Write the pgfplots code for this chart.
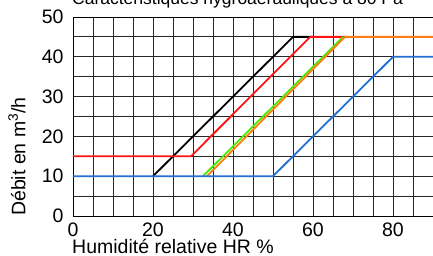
\documentclass[border=0pt]{standalone}
\usepackage{pgfplots}
\pgfplotsset{compat=1.18}
\usepackage{fontspec}
\setmainfont{Liberation Sans}
\definecolor{cred}{RGB}{255,20,20}
\definecolor{cgreen}{RGB}{70,235,0}
\definecolor{corange}{RGB}{255,125,20}
\definecolor{cblue}{RGB}{35,112,210}
\begin{document}
\begin{tikzpicture}
\begin{axis}[
  at={(0,0)}, anchor=south west,
  scale only axis, width=360pt, height=199pt,
  xmin=0, xmax=90, ymin=0, ymax=50,
  xtick={0,20,...,80}, ytick={0,10,...,50},
  minor xtick={0,5,...,90}, minor ytick={0,5,...,50},
  grid=both,
  major grid style={black!85, line width=0.8pt},
  minor grid style={black!85, line width=0.8pt},
  axis line style={black, line width=0.9pt},
  major tick length=0pt, minor tick length=0pt,
  /pgf/number format/assume math mode=true,
  tick label style={font=\fontsize{19.5}{22}\selectfont},
  xticklabel style={inner sep=0pt, yshift=-6.5pt},
  yticklabel style={xshift=-6pt},
  xlabel={Humidité relative HR \%},
  ylabel={Débit en m\textsuperscript{3}/h},
  label style={font=\fontsize{19.5}{22}\selectfont},
  xlabel style={at={(axis description cs:0,0)}, anchor=base west, inner sep=0pt, xshift=-1pt, yshift=-37.5pt},
  ylabel style={at={(axis description cs:0,0)}, anchor=center, xshift=59.5pt, yshift=56pt},
  clip=false,
]
\addplot[black, line width=1.8pt] coordinates {(20,10) (55,45) (60,45)};
\addplot[cred, line width=1.8pt] coordinates {(0,15) (29.5,15) (59.3,45) (68,45)};
\addplot[cgreen, line width=1.8pt] coordinates {(32.5,10) (67.5,45)};
\addplot[corange, line width=1.8pt] coordinates {(33.5,10) (68,45) (90,45)};
\addplot[cblue, line width=1.8pt] coordinates {(0,10) (50,10) (80,40) (90,40)};
\end{axis}
\node[anchor=base west, inner sep=0pt, font=\fontsize{17.5}{20}\selectfont] at (-1pt,211pt) {Caractéristiques hygroaérauliques à 80 Pa};
\pgfresetboundingbox
\useasboundingbox (-73pt,-40pt) rectangle (360pt,216pt);
\end{tikzpicture}
\end{document}
